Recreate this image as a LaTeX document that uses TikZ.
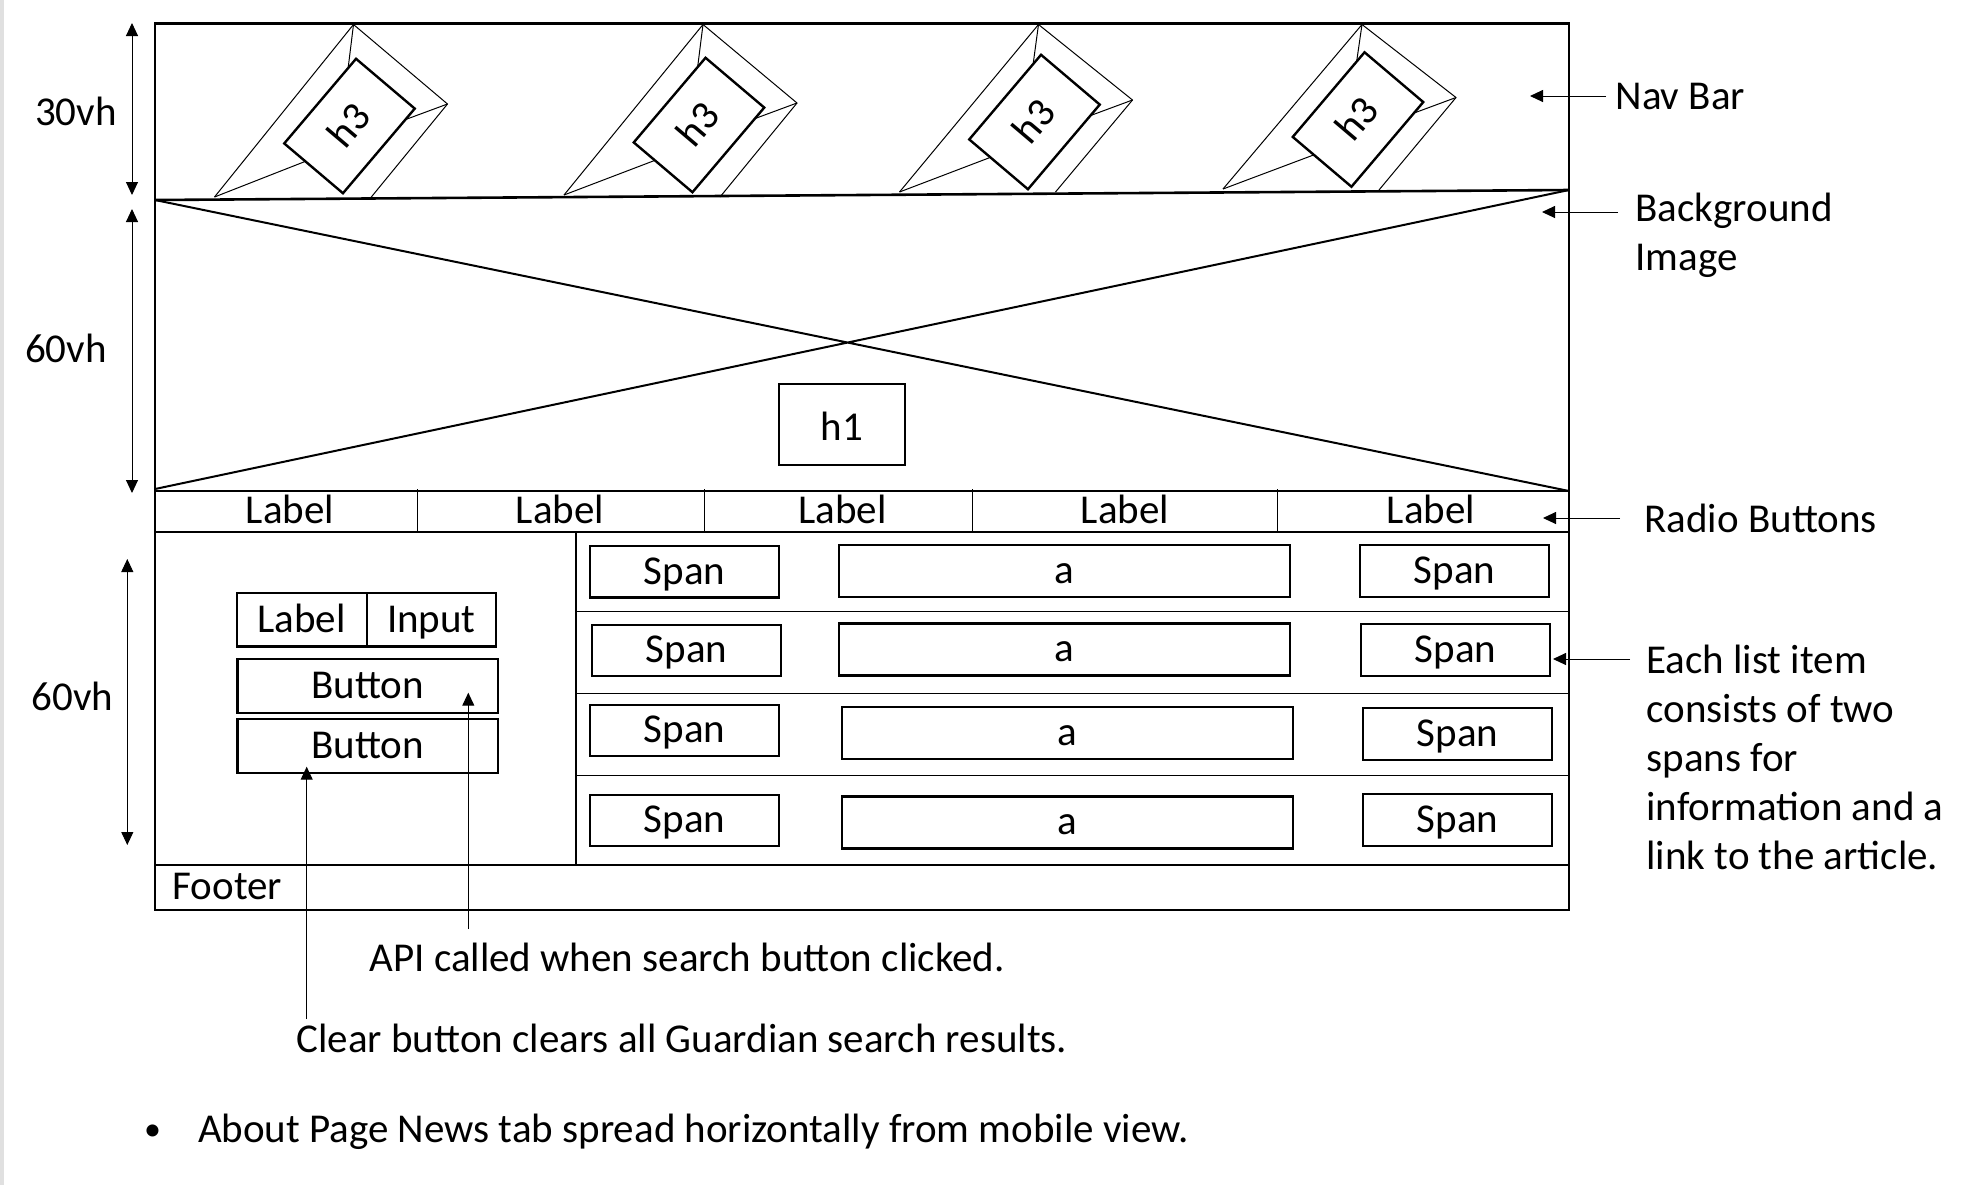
\documentclass[tikz,border=0pt]{standalone}
\usepackage{fontspec}
\setmainfont{Carlito}
\usetikzlibrary{arrows.meta, positioning, calc}
\tikzset{
  every picture/.style={font=\fontsize{20.5}{24.5}\selectfont, line width=0.5pt},
  frame/.style={line width=1.3pt},
  cross/.style={line width=1pt},
  box/.style={draw, line width=1.2pt, inner sep=0pt, outer sep=0pt, text height=17pt, text depth=4.6pt},
  cell/.style={inner sep=0pt, text height=17pt, text depth=4.6pt},
  pointer/.style={-{Triangle[length=6.5pt, width=6pt]}, line width=0.5pt},
  dimline/.style={{Triangle[length=6.5pt, width=6pt]}-{Triangle[length=6.5pt, width=6pt]}, line width=0.5pt},
  note/.style={inner sep=0pt, align=left},
}

\begin{document}
\begin{tikzpicture}[x=0.5pt, y=-0.5pt]
  \useasboundingbox (0,0) rectangle (1961,1185);
  \fill[black!12] (0,0) rectangle (4,1185);
  % page frame
  \draw[frame] (155,23.5) rectangle (1569,910);
  \draw[frame] (155,200) -- (1569,190);
  \draw[cross] (155,200) -- (1569,491) (155,489) -- (1569,190);
  \draw[frame] (155,491) -- (1569,491) (155,532) -- (1569,532) (155,865) -- (1569,865);
  \draw[frame] (576,532) -- (576,865);
  \foreach \y in {611.5, 693, 775} \draw (576,\y) -- (1569,\y);
  \foreach \x in {417.5, 704, 972.5, 1277.5} \draw (\x,489) -- (\x,532);
  % nav bar
  \foreach \i/\cx/\cy/\by/\bry in {1/349.5/126/197/198, 2/699/125/195/197, 3/1034.5/122/192/192, 4/1358/119.5/189/190} {
    \node[box, rotate=49.7, minimum width=55.5pt, minimum height=38.5pt] (nav\i) at (\cx,\cy) {h3};
    \coordinate (apex\i) at ({\cx+4},24.5);
    \coordinate (foot\i) at ({\cx-135},\by);
    \coordinate (wing\i) at ({\cx+98},{\cy-22});
    \coordinate (heel\i) at ({\cx+21},\bry);
    \draw (foot\i) -- (apex\i) -- (wing\i) -- (heel\i);
    \draw (apex\i) -- ($(nav\i.north east)!0.11!(nav\i.north west)$);
    \draw (foot\i) -- ($(nav\i.north west)!0.36!(nav\i.south west)$);
    \draw (wing\i) -- ($(nav\i.south east)!0.13!(nav\i.south west)$);
  }
  \node[box, minimum width=63pt, minimum height=40.5pt, text depth=0.6pt] (heading) at (842,424.5) {h1};
  % radio buttons
  \foreach \i/\x in {1/290, 2/560, 3/842.5, 4/1125, 5/1431}
    \node[cell] (radio\i) at (\x,511.5) {Label};
  % search panel
  \node[box, minimum width=65pt, minimum height=26.85pt] (searchlbl) at (301.7,619.8) {Label};
  \node[box, minimum width=64.65pt, minimum height=26.85pt, right=0pt of searchlbl] (searchin) {Input};
  \node[box, minimum width=130.15pt, minimum height=26.85pt] (search) at (367.8,685.9) {Button};
  \node[box, minimum width=130.15pt, minimum height=26.85pt] (clear) at (367.8,746) {Button};
  % list items
  \foreach \i/\xl/\yl/\xa/\ya/\xr/\yr in {1/684.5/571.7/1064.5/571.2/1454.5/571,
      2/686.7/650.5/1064.5/649.5/1455.5/650, 3/684.5/730.5/1067.5/733.2/1457.5/734,
      4/684.5/820.5/1067.5/822.5/1457.5/820} {
    \node[box, minimum width=94.5pt, minimum height=25.75pt] (infoa\i) at (\xl,\yl) {Span};
    \node[box, minimum width=225.5pt, minimum height=26pt] (link\i) at (\xa,\ya) {a};
    \node[box, minimum width=94.5pt, minimum height=25.75pt] (infob\i) at (\xr,\yr) {Span};
  }
  \node[note, anchor=base west] (footer) at (172,899) {Footer};
  % heights
  \coordinate (h30top) at (132,23); \coordinate (h30bot) at (132,195);
  \coordinate (h60top) at (132,209); \coordinate (h60bot) at (132,493);
  \coordinate (l60top) at (127.3,559); \coordinate (l60bot) at (127.3,845);
  \draw[dimline] (h30top) -- (h30bot);
  \draw[dimline] (h60top) -- (h60bot);
  \draw[dimline] (l60top) -- (l60bot);
  \node[note, anchor=base] (dimnav) at (76,125) {30vh};
  \node[note, anchor=base] (dimbg) at (66,362) {60vh};
  \node[note, anchor=base] (dimlist) at (72.5,710) {60vh};
  % notes on the right
  \node[note, anchor=west] (navnote) at (1615,96) {Nav Bar};
  \node[note, anchor=north west] (bgnote) at (1635,193) {Background\\Image};
  \node[note, anchor=west] (radionote) at (1644,518) {Radio Buttons};
  \node[note, anchor=north west] (listnote) at (1646,645) {Each list item\\consists of two\\spans for\\information and a\\link to the article.};
  \coordinate (navtail) at (1606,96); \coordinate (navtip) at (1530,96);
  \coordinate (bgtail) at (1618,212); \coordinate (bgtip) at (1542,212);
  \coordinate (radiotail) at (1620,518); \coordinate (radiotip) at (1543,518);
  \coordinate (listtail) at (1630,659); \coordinate (listtip) at (1553,659);
  \draw[pointer] (navtail) -- (navtip);
  \draw[pointer] (bgtail) -- (bgtip);
  \draw[pointer] (radiotail) -- (radiotip);
  \draw[pointer] (listtail) -- (listtip);
  % notes below
  \coordinate (apitail) at (468.3,929); \coordinate (apitip) at (468.3,692.7);
  \coordinate (cleartail) at (306.7,1019); \coordinate (cleartip) at (306.7,766.7);
  \draw[pointer] (apitail) -- (apitip);
  \draw[pointer] (cleartail) -- (cleartip);
  \node[note, anchor=base west] (apinote) at (369,971) {API called when search button clicked.};
  \node[note, anchor=base west] (clearnote) at (296,1052) {Clear button clears all Guardian search results.};
  \node[note, anchor=base, font=\fontsize{17}{20}\selectfont] (bullet) at (152.5,1140) {\textbullet};
  \node[note, anchor=base west] (aboutnote) at (197.5,1142) {About Page News tab spread horizontally from mobile view.};
\end{tikzpicture}
\end{document}
